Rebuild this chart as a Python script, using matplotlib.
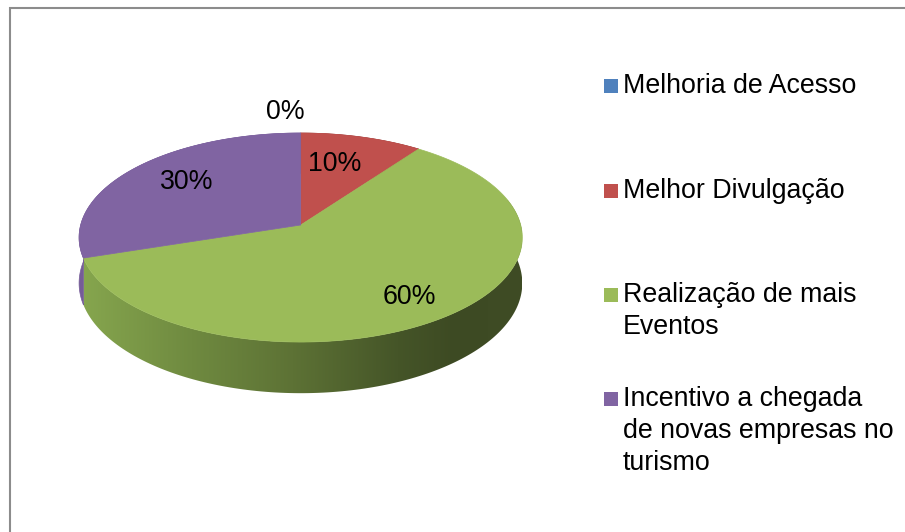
import numpy as np
import matplotlib.pyplot as plt
from matplotlib.patches import Polygon, Rectangle
from matplotlib.colors import LinearSegmentedColormap

plt.rcParams['font.family'] = ['Liberation Sans', 'DejaVu Sans']

# data
categories = ["Melhoria de Acesso", "Melhor Divulgação",
              "Realização de mais\nEventos",
              "Incentivo a chegada\nde novas empresas no\nturismo"]
values = [0, 10, 60, 30]
pct_labels = ["0%", "10%", "60%", "30%"]
colors = ["#4F81BD", "#C0504D", "#9BBB59", "#8064A2"]
side_colors = ["#3d6391", "#8f3c3a", None, "#755c98"]

# layout (pixels)
W, H = 905, 532
CX, CY = 300.7, 225.0
RX, RY = 220.0, 103.0
PERSP = 0.12
DEPTH = 45.0
FS = 19.3
label_frac = [1.26, 0.53, 0.78, 0.67]
label_nudge = [(-15, 0), (0, -12), (0, 2), (0, -4)]


def proj(t, f=1.0, drop=0.0):
    c = f * np.cos(t)
    s = f * np.sin(t)
    k = 1.0 + PERSP * c
    return CX + RX * s / k, CY - RY * c / k + drop / k


fig = plt.figure(figsize=(W / 100, H / 100), dpi=100)
ax = fig.add_axes([0, 0, 1, 1])

total = float(sum(values))
fracs = np.array(values) / total
ends = np.cumsum(fracs) * 2 * np.pi
starts = ends - fracs * 2 * np.pi

green_cmap = LinearSegmentedColormap.from_list("side", [
    (0.0, "#86a64e"), (0.25, "#6f8a40"), (0.48, "#5d7235"),
    (0.72, "#455528"), (0.85, "#3d4a23"), (1.0, "#3f4c25")])

# side walls
for i, (t0, t1) in enumerate(zip(starts, ends)):
    if values[i] == 0:
        continue
    t = np.linspace(t0, t1, 200)
    xt, yt = proj(t)
    xb, yb = proj(t[::-1], drop=DEPTH)
    pts = np.column_stack([np.r_[xt, xb], np.r_[yt, yb]])
    if side_colors[i] is None:
        poly = Polygon(pts, closed=True, facecolor="none", edgecolor="none")
        ax.add_patch(poly)
        im = ax.imshow(np.linspace(0, 1, 256)[None, :], cmap=green_cmap,
                       extent=(CX - RX, CX + RX, 420, 200), aspect='auto',
                       interpolation='bilinear')
        im.set_clip_path(poly)
    else:
        ax.add_patch(Polygon(pts, closed=True, facecolor=side_colors[i],
                             edgecolor=side_colors[i], linewidth=0.5))

# top surfaces
for i, (t0, t1) in enumerate(zip(starts, ends)):
    if values[i] == 0:
        continue
    t = np.linspace(t0, t1, 200)
    xt, yt = proj(t)
    pts = np.column_stack([np.r_[CX, xt], np.r_[CY, yt]])
    ax.add_patch(Polygon(pts, closed=True, facecolor=colors[i],
                         edgecolor=colors[i], linewidth=0.5))

# percentage labels
for i, (t0, t1) in enumerate(zip(starts, ends)):
    tm = 0.5 * (t0 + t1)
    x, y = proj(tm, f=label_frac[i])
    dx, dy = label_nudge[i]
    ax.text(x + dx, y + dy, pct_labels[i], fontsize=FS, ha='center',
            va='center', color='black')

# legend
leg_y = [86, 191, 295, 399]
line_h = 32
for i, cat in enumerate(categories):
    ax.add_patch(Rectangle((604, leg_y[i] - 7), 14, 14, facecolor=colors[i],
                           edgecolor='none'))
    for j, line in enumerate(cat.split("\n")):
        ax.text(623, leg_y[i] + j * line_h, line, fontsize=FS, ha='left',
                va='center', color='black')

# chart frame (top and left edges visible)
ax.plot([9, W], [7.5, 7.5], color="#8c8c8c", linewidth=1.5,
        solid_capstyle='butt')
ax.plot([9.5, 9.5], [7, H], color="#8c8c8c", linewidth=1.5,
        solid_capstyle='butt')

ax.set_xlim(0, W)
ax.set_ylim(H, 0)
ax.axis('off')

fig.savefig("out.png", dpi=100)
plt.close(fig)
